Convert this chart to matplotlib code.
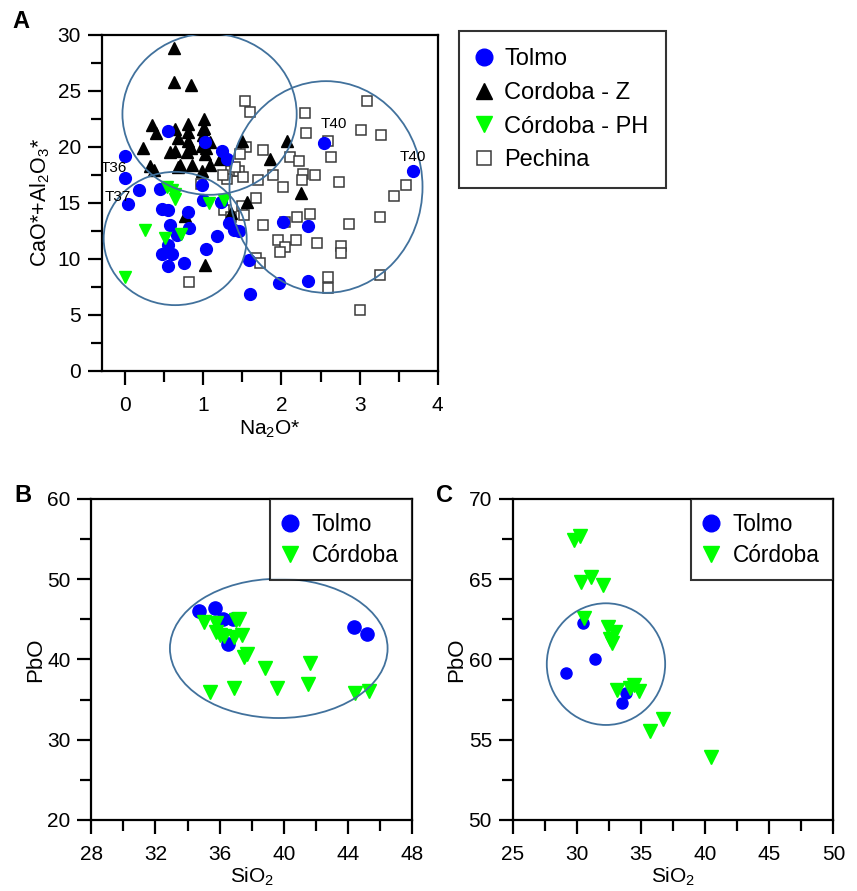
import matplotlib
matplotlib.use("Agg")
import matplotlib.pyplot as plt
from matplotlib.patches import Ellipse
from matplotlib.lines import Line2D
from matplotlib.ticker import MultipleLocator

plt.rcParams['font.family'] = ['Liberation Sans', 'DejaVu Sans']
plt.rcParams['mathtext.default'] = 'regular'

# ---------------- Panel A data ----------------
tolmo_a_x = [0.00, 0.00, 0.03, 0.18, 0.45, 0.55, 1.02, 1.24, 1.30, 0.98, 0.47, 0.55,
             0.80, 0.99, 1.22, 0.58, 0.66, 0.82, 1.17, 1.04, 0.55, 0.47, 0.60, 0.55,
             0.75, 1.33, 1.39, 1.46, 1.58, 1.60, 1.97, 2.02, 2.54, 2.34, 3.68, 2.34]
tolmo_a_y = [19.2, 17.2, 14.9, 16.1, 16.2, 21.4, 20.4, 19.6, 18.9, 16.6, 14.4, 14.3,
             14.2, 15.2, 15.1, 13.0, 12.1, 12.7, 12.0, 10.9, 11.2, 10.4, 10.4, 9.3,
             9.6, 13.2, 12.6, 12.5, 9.9, 6.8, 7.8, 13.3, 20.3, 12.9, 17.8, 8.0]

cordz_x = [0.62, 0.62, 0.84, 0.34, 0.40, 0.23, 0.64, 0.67, 0.81, 0.81, 0.80, 0.79,
           1.01, 1.01, 1.00, 0.58, 0.64, 0.98, 1.04, 1.02, 0.70, 0.85, 1.09, 1.21,
           0.32, 0.37, 0.98, 0.68, 1.49, 1.56, 1.35, 0.77, 1.02, 1.85, 2.07, 2.25,
           1.09, 0.99, 0.84]
cordz_y = [28.8, 25.8, 25.5, 21.9, 21.2, 19.9, 21.6, 20.8, 22.0, 21.3, 20.5, 19.5,
           22.5, 21.7, 21.0, 19.5, 19.6, 20.1, 19.9, 19.3, 18.4, 18.4, 18.4, 18.9,
           18.3, 17.9, 17.8, 18.2, 20.5, 15.1, 14.1, 13.8, 9.4, 18.9, 20.5, 15.9,
           20.4, 21.6, 19.9]

cordph_x = [0.53, 0.60, 0.64, 0.64, 1.07, 1.26, 0.26, 0.51, 0.72, 0.00]
cordph_y = [16.4, 16.1, 15.8, 15.3, 15.0, 15.2, 12.6, 11.8, 12.2, 8.4]

pech_x = [1.53, 1.60, 2.30, 3.10, 2.31, 3.02, 3.28, 2.60, 2.63, 1.55, 1.47, 1.76,
          2.11, 2.23, 1.36, 1.46, 1.51, 1.30, 1.70, 1.89, 2.28, 2.43, 2.26, 2.02,
          2.73, 3.60, 3.44, 1.68, 1.26, 1.36, 1.49, 1.52, 1.76, 2.05, 2.20, 2.37,
          2.87, 3.26, 1.96, 2.05, 1.98, 2.18, 2.46, 2.76, 2.76, 1.68, 1.73, 2.59,
          2.60, 3.26, 3.01, 0.82, 0.97, 1.40, 1.25]
pech_y = [24.1, 23.1, 23.0, 24.1, 21.2, 21.5, 21.0, 20.5, 19.1, 20.0, 19.3, 19.7,
          19.1, 18.7, 17.8, 17.8, 17.3, 17.1, 17.0, 17.5, 17.6, 17.5, 17.0, 16.4,
          16.8, 16.6, 15.6, 15.4, 14.3, 13.7, 14.7, 13.9, 13.0, 13.3, 13.7, 14.0,
          13.1, 13.7, 11.7, 11.0, 10.6, 11.7, 11.4, 11.1, 10.5, 10.1, 9.6, 8.4,
          7.4, 8.5, 5.4, 7.9, 16.7, 18.2, 17.5]

labels_a = ["T36", "T37", "T40", "T40"]
labels_a_x = [-0.15, -0.09, 2.67, 3.68]
labels_a_y = [18.1, 15.5, 22.0, 19.1]

# ellipses (center x, center y, width, height) in data units
ell_a = [(1.08, 22.9, 2.23, 14.4), (0.64, 11.8, 1.83, 11.9), (2.57, 16.4, 2.47, 18.9)]

# ---------------- Panel B data ----------------
tolmo_b_x = [34.71, 35.71, 36.18, 36.85, 36.54, 44.37, 45.20]
tolmo_b_y = [46.07, 46.36, 45.03, 44.99, 41.92, 44.08, 43.16]
cord_b_x = [35.0, 35.8, 37.2, 37.0, 35.8, 36.0, 36.3, 36.9, 37.4, 37.7, 37.5, 38.8,
            41.6, 35.4, 36.9, 39.6, 41.5, 44.4, 45.3]
cord_b_y = [44.7, 44.5, 45.1, 44.9, 43.4, 43.1, 42.9, 42.8, 43.0, 40.7, 40.3, 38.9,
            39.5, 36.0, 36.4, 36.5, 36.9, 35.8, 36.1]
ell_b = (39.68, 41.38, 13.56, 17.35)

# ---------------- Panel C data ----------------
tolmo_c_x = [30.51, 31.42, 29.16, 33.84, 33.52]
tolmo_c_y = [62.25, 60.01, 59.14, 57.93, 57.27]
cord_c_x = [29.78, 30.25, 30.30, 31.08, 32.02, 30.56, 32.46, 33.00, 32.59, 32.72,
            33.11, 34.15, 34.46, 34.82, 35.71, 36.69, 40.44]
cord_c_y = [67.45, 67.69, 64.85, 65.16, 64.64, 62.56, 62.05, 61.73, 61.26, 61.01,
            58.10, 58.20, 58.41, 58.06, 55.57, 56.27, 53.90]
ell_c = (32.27, 59.71, 9.23, 7.58)

BLUE = '#0000FF'
GREEN = '#00FF00'
ELLC = '#41719C'

fig = plt.figure(figsize=(8.57, 8.91), dpi=100)

def style_axes(ax, xmaj, xmin, ymaj, ymin):
    for s in ax.spines.values():
        s.set_linewidth(1.6)
        s.set_color('black')
    ax.xaxis.set_major_locator(MultipleLocator(xmaj))
    ax.xaxis.set_minor_locator(MultipleLocator(xmin))
    ax.yaxis.set_major_locator(MultipleLocator(ymaj))
    ax.yaxis.set_minor_locator(MultipleLocator(ymin))
    ax.tick_params(which='major', direction='out', length=10, width=1.6, labelsize=15)
    ax.tick_params(which='minor', direction='out', length=8, width=1.6)
    ax.tick_params(axis='x', which='major', pad=8)
    ax.tick_params(axis='y', which='major', pad=5)

def make_legend(target, handles, labels, fs, **kw):
    leg = target.legend(handles, labels, fontsize=fs, frameon=True, fancybox=False,
                        edgecolor='black', borderaxespad=0, **kw)
    leg.get_frame().set_linewidth(1.5)
    return leg

# ---------------- Panel A ----------------
axA = fig.add_axes([0.1187, 0.5840, 0.3921, 0.3771])
axA.set_xlim(-0.3, 4)
axA.set_ylim(0, 30)
style_axes(axA, 1, 0.5, 5, 2.5)
axA.plot(pech_x, pech_y, 's', ms=7.2, mfc='white', mec='#3a3a3a', mew=1.1, ls='none', zorder=3)
axA.plot(cordz_x, cordz_y, '^', ms=8, color='black', ls='none', zorder=4)
axA.plot(tolmo_a_x, tolmo_a_y, 'o', ms=8.5, color=BLUE, ls='none', zorder=5)
axA.plot(cordph_x, cordph_y, 'v', ms=9, color=GREEN, ls='none', zorder=6)
for (cx, cy, w, h) in ell_a:
    axA.add_patch(Ellipse((cx, cy), w, h, fill=False, ec=ELLC, lw=1.3, zorder=7))
for t, x, y in zip(labels_a, labels_a_x, labels_a_y):
    axA.text(x, y, t, fontsize=11, ha='center', va='center', zorder=8)
axA.set_xlabel('Na$_2$O*', fontsize=15, labelpad=3)
axA.set_ylabel('CaO*+Al$_2$O$_3$*', fontsize=15.5, labelpad=4)

hA = [Line2D([], [], marker='o', ls='none', color=BLUE, ms=12),
      Line2D([], [], marker='^', ls='none', color='black', ms=11),
      Line2D([], [], marker='v', ls='none', color=GREEN, ms=11),
      Line2D([], [], marker='s', ls='none', mfc='white', mec='#3a3a3a', mew=1.1, ms=10)]
make_legend(fig, hA, ['Tolmo', 'Cordoba - Z', 'Córdoba - PH', 'Pechina'], 17,
            loc='upper left', bbox_to_anchor=(0.5356, 0.9652),
            handlelength=0.7, handletextpad=0.5, labelspacing=0.5, borderpad=0.72)

# ---------------- Panel B ----------------
axB = fig.add_axes([0.1065, 0.0797, 0.3746, 0.3603])
axB.set_xlim(28, 48)
axB.set_ylim(20, 60)
style_axes(axB, 4, 2, 10, 5)
axB.plot(cord_b_x, cord_b_y, 'v', ms=10, color=GREEN, ls='none', zorder=4)
axB.plot(tolmo_b_x, tolmo_b_y, 'o', ms=9.5, color=BLUE, ls='none', zorder=3)
cx, cy, w, h = ell_b
axB.add_patch(Ellipse((cx, cy), w, h, fill=False, ec=ELLC, lw=1.3, zorder=5))
axB.set_xlabel('SiO$_2$', fontsize=15, labelpad=1)
axB.set_ylabel('PbO', fontsize=16, labelpad=1)
hB = [Line2D([], [], marker='o', ls='none', color=BLUE, ms=12),
      Line2D([], [], marker='v', ls='none', color=GREEN, ms=12)]
make_legend(axB, hB, ['Tolmo', 'Córdoba'], 16.3, loc='upper right',
            handlelength=0.65, handletextpad=0.62, labelspacing=0.36, borderpad=0.6)

# ---------------- Panel C ----------------
axC = fig.add_axes([0.5983, 0.0797, 0.3741, 0.3603])
axC.set_xlim(25, 50)
axC.set_ylim(50, 70)
style_axes(axC, 5, 2.5, 5, 2.5)
axC.plot(cord_c_x, cord_c_y, 'v', ms=10, color=GREEN, ls='none', zorder=4)
axC.plot(tolmo_c_x, tolmo_c_y, 'o', ms=8, color=BLUE, ls='none', zorder=3)
cx, cy, w, h = ell_c
axC.add_patch(Ellipse((cx, cy), w, h, fill=False, ec=ELLC, lw=1.3, zorder=5))
axC.set_xlabel('SiO$_2$', fontsize=15, labelpad=1)
axC.set_ylabel('PbO', fontsize=16, labelpad=1)
make_legend(axC, hB, ['Tolmo', 'Córdoba'], 16.3, loc='upper right',
            handlelength=0.65, handletextpad=0.62, labelspacing=0.36, borderpad=0.6)

# panel letters
fig.text(12/857, 1 - 22/891, 'A', fontsize=17, fontweight='bold', va='center', ha='left')
fig.text(14/857, 1 - 496/891, 'B', fontsize=17, fontweight='bold', va='center', ha='left')
fig.text(436/857, 1 - 496/891, 'C', fontsize=17, fontweight='bold', va='center', ha='left')

fig.savefig('out.png', dpi=100)
